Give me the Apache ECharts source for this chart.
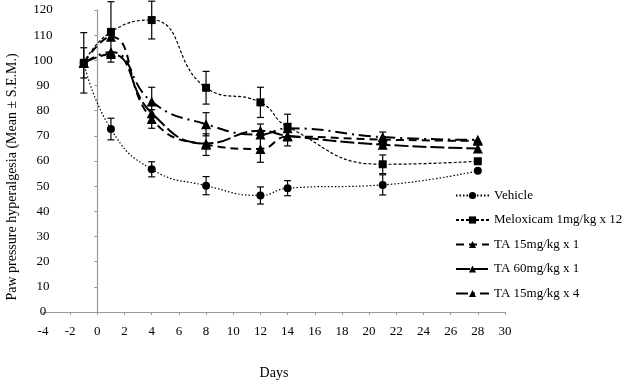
<!DOCTYPE html>
<html>
<head>
<meta charset="utf-8">
<script src="https://cdn.jsdelivr.net/npm/echarts@6/dist/echarts.min.js"></script>
<style>
html, body { margin: 0; padding: 0; background: #fff; }
#main { width: 640px; height: 384px; }
</style>
</head>
<body>
<div id="main"></div>
<script>
var days = [-1, 1, 4, 8, 12, 14, 21, 28];

var names = ['Vehicle', 'Meloxicam 1mg/kg x 12', 'TA 15mg/kg x 1', 'TA 60mg/kg x 1', 'TA 15mg/kg x 4'];

var vehicle   = [99, 72.7, 56.7, 50.2, 46.3, 49.2, 50.5, 56.1];
var meloxicam = [99, 111.3, 116, 89.1, 83.3, 73.6, 58.7, 59.9];
var ta15x1    = [99, 109.4, 76.7, 66.5, 64.8, 69.7, 68.5, 68];
var ta60x1    = [99, 102.5, 79, 67, 72, 70, 66.5, 65];
var ta15x4    = [99, 103.3, 83.6, 74.6, 70.5, 73, 69.5, 68.4];

// S.E.M., 0 where no bar is drawn
var vehicleErr   = [12, 4.3, 3, 3.6, 3.4, 3, 4, 0];
var meloxicamErr = [6, 12, 7.5, 6.5, 6, 5, 3.7, 0];
var ta15x1Err    = [0, 0, 3.7, 4.3, 5.3, 0, 0, 0];
var ta60x1Err    = [0, 0, 0, 0, 2.7, 4, 0, 0];
var ta15x4Err    = [0, 0, 5.7, 4.6, 0, 0, 2, 0];

var allValues = [vehicle, meloxicam, ta15x1, ta60x1, ta15x4];
var allErrs = [vehicleErr, meloxicamErr, ta15x1Err, ta60x1Err, ta15x4Err];
var symbols = ['circle', 'rect', 'triangle', 'triangle', 'triangle'];
var dashes = [[1.5, 2], [3, 2], [8, 5], [14, 4], [12, 5, 2, 5]];
var widths = [1.2, 1.2, 2, 2, 2];

var dom = document.getElementById('main');
var myChart = echarts.init(dom);
var font = 'Liberation Serif';

function pairs(vals) {
    var out = [];
    for (var i = 0; i < days.length; i++) {
        out.push([days[i], vals[i]]);
    }
    return out;
}

function errData(vals, errs) {
    var out = [];
    for (var i = 0; i < days.length; i++) {
        if (errs[i] > 0) {
            out.push([days[i], vals[i] - errs[i], vals[i] + errs[i]]);
        }
    }
    return out;
}

function renderErr(params, api) {
    var x = api.value(0);
    var lo = api.coord([x, api.value(1)]);
    var hi = api.coord([x, api.value(2)]);
    var w = 3.5;
    var st = { stroke: '#000', lineWidth: 1.2 };
    return {
        type: 'group',
        children: [
            { type: 'line', shape: { x1: lo[0], y1: lo[1], x2: hi[0], y2: hi[1] }, style: st },
            { type: 'line', shape: { x1: lo[0] - w, y1: lo[1], x2: lo[0] + w, y2: lo[1] }, style: st },
            { type: 'line', shape: { x1: hi[0] - w, y1: hi[1], x2: hi[0] + w, y2: hi[1] }, style: st }
        ]
    };
}

var series = [];
for (var s = 0; s < names.length; s++) {
    series.push({
        name: names[s],
        type: 'line',
        smooth: 0.5,
        data: pairs(allValues[s]),
        symbol: symbols[s],
        symbolSize: symbols[s] == 'triangle' ? 10 : 8,
        itemStyle: { color: '#000' },
        lineStyle: { color: '#000', width: widths[s], type: dashes[s] },
        z: 3
    });
    series.push({
        type: 'custom',
        renderItem: renderErr,
        data: errData(allValues[s], allErrs[s]),
        z: 4,
        silent: true
    });
}

option = {
    animation: false,
    textStyle: { fontFamily: font },
    grid: { left: 43, right: 135, top: 10, bottom: 72, outerBoundsMode: 'none', containLabel: false },
    legend: {
        data: names,
        orient: 'vertical',
        left: 450,
        top: 184,
        itemWidth: 33,
        itemHeight: 9,
        itemGap: 11.5,
        textStyle: { fontFamily: font, fontSize: 13, color: '#000' }
    },
    xAxis: {
        type: 'value',
        min: -4,
        max: 30,
        interval: 2,
        name: 'Days',
        nameLocation: 'middle',
        nameGap: 54,
        nameTextStyle: { fontFamily: font, fontSize: 14, color: '#000' },
        axisLine: { lineStyle: { color: '#999', width: 1.2 } },
        axisTick: { length: 3, lineStyle: { color: '#999' } },
        axisLabel: { fontFamily: font, fontSize: 13, color: '#000', margin: 13 },
        splitLine: { show: false }
    },
    yAxis: [
        {
            // labels sit at the left edge of the plot
            type: 'value',
            position: 'left',
            min: 0,
            max: 120,
            interval: 10,
            axisLine: { show: false, onZero: false },
            axisTick: { show: false },
            axisLabel: { fontFamily: font, fontSize: 13, color: '#000', margin: 0, align: 'center' },
            splitLine: { show: false }
        },
        {
            // the grey line crosses at day 0
            type: 'value',
            position: 'left',
            min: 0,
            max: 120,
            interval: 10,
            axisLine: { show: true, onZero: true, lineStyle: { color: '#999', width: 1.2 } },
            axisTick: { show: true, length: 3, lineStyle: { color: '#999' } },
            axisLabel: { show: false },
            splitLine: { show: false }
        }
    ],
    graphic: [{
        type: 'text',
        x: 12,
        y: 177,
        rotation: Math.PI / 2,
        style: {
            text: 'Paw pressure hyperalgesia (Mean \u00b1 S.E.M.)',
            font: '14px "Liberation Serif"',
            fill: '#000',
            align: 'center',
            verticalAlign: 'middle'
        }
    }],
    series: series
};

myChart.setOption(option);
</script>
</body>
</html>
